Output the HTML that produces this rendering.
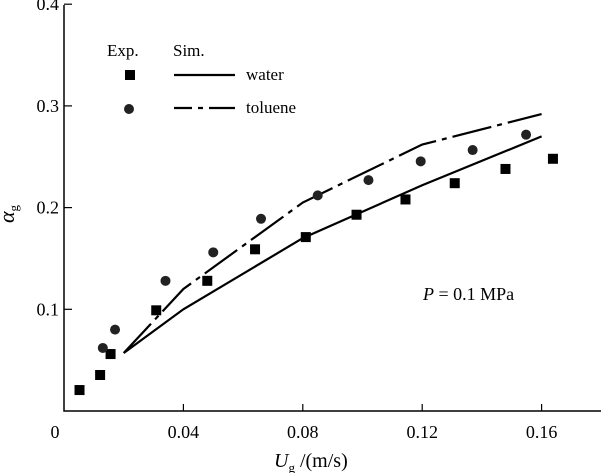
<!DOCTYPE html>
<html><head><meta charset="utf-8"><style>
body{margin:0;background:#fff;}
svg{display:block;font-family:"Liberation Serif",serif;}
</style></head><body>
<svg id="chart" width="602" height="473">
<g id="axes"></g>
<g id="marks"></g>
</svg>
<script>
const xTicks=[0.04,0.08,0.12,0.16];
const xTickLabels=["0.04","0.08","0.12","0.16"];
const yTicks=[0.1,0.2,0.3,0.4];
const yTickLabels=["0.1","0.2","0.3","0.4"];
const waterExpX=[0.0052,0.0121,0.0156,0.0309,0.048,0.064,0.081,0.098,0.1144,0.1309,0.1479,0.1638];
const waterExpY=[0.0206,0.0354,0.056,0.099,0.128,0.159,0.171,0.193,0.208,0.224,0.238,0.248];
const tolExpX=[0.013,0.0171,0.034,0.050,0.066,0.085,0.102,0.1195,0.1369,0.1548];
const tolExpY=[0.062,0.080,0.128,0.156,0.189,0.212,0.227,0.2455,0.2566,0.2717];
const waterSimX=[0.020,0.040,0.080,0.120,0.160];
const waterSimY=[0.057,0.100,0.170,0.222,0.270];
const tolSimX=[0.020,0.040,0.080,0.120,0.160];
const tolSimY=[0.057,0.120,0.205,0.262,0.292];

const NS="http://www.w3.org/2000/svg";
const X0=64,XS=2985,Y0=411,YS=1017;
function sx(v){return X0+v*XS;}
function sy(v){return Y0-v*YS;}
function mk(tag,attrs,parent,text){const e=document.createElementNS(NS,tag);for(const k in attrs)e.setAttribute(k,attrs[k]);if(text!==undefined)e.textContent=text;parent.appendChild(e);return e;}
const axes=document.getElementById('axes'),marks=document.getElementById('marks');

let e=mk('path',{d:`M${X0},5 L${X0},${Y0} L601,${Y0}`,fill:'none',stroke:'#000','stroke-width':1.5},axes);


xTicks.forEach((t,i)=>{
 let l=mk('line',{x1:sx(t),x2:sx(t),y1:Y0,y2:Y0-7,stroke:'#000','stroke-width':1.2},axes);
 
 
 let tx=mk('text',{x:sx(t),y:438,'text-anchor':'middle','font-size':18},axes,xTickLabels[i]);
 
 
});
yTicks.forEach((t,i)=>{
 let l=mk('line',{x1:X0,x2:X0+8,y1:sy(t),y2:sy(t),stroke:'#000','stroke-width':1.2},axes);
 
 
 let tx=mk('text',{x:59,y:sy(t)+6,'text-anchor':'end','font-size':18},axes,yTickLabels[i]);
 
 
});
e=mk('text',{x:55,y:438,'text-anchor':'middle','font-size':18},axes,'0');



function path(xs,ys){return xs.map((x,i)=>(i?'L':'M')+sx(x)+','+sy(ys[i])).join(' ');}
e=mk('path',{d:path(waterSimX,waterSimY),fill:'none',stroke:'#000','stroke-width':2.2},marks);


e=mk('path',{d:path(tolSimX,tolSimY),fill:'none',stroke:'#000','stroke-width':2.2,'stroke-dasharray':'40 6 5 6'},marks);


waterExpX.forEach((x,i)=>{
 let r=mk('rect',{x:sx(x)-5,y:sy(waterExpY[i])-5,width:10,height:10,fill:'#000'},marks);
 
 
});
tolExpX.forEach((x,i)=>{
 let c=mk('circle',{cx:sx(x),cy:sy(tolExpY[i]),r:5,fill:'#222'},marks);
 
 
});
</script>
<svg width="602" height="473" style="position:absolute;left:0;top:0;font-family:'Liberation Serif',serif">
<g>
<text x="107" y="56" font-size="17">Exp.</text>
<text x="173" y="56" font-size="17">Sim.</text>
<rect x="125" y="70" width="10" height="10" fill="#000"/>
<line x1="174" x2="235" y1="75" y2="75" stroke="#000" stroke-width="2.2"/>
<text x="246" y="80" font-size="17">water</text>
<circle cx="129" cy="109" r="5" fill="#222"/>
<line x1="174" x2="235" y1="108" y2="108" stroke="#000" stroke-width="2.2" stroke-dasharray="18 6 5 6 40"/>
<text x="246" y="113" font-size="17">toluene</text>
</g>
<text x="423" y="300" font-size="18"><tspan font-style="italic">P</tspan> = 0.1 MPa</text>
<text x="0" y="0" font-size="22" transform="translate(14,223) rotate(-90)"><tspan font-style="italic">α</tspan><tspan font-size="13" dy="4">g</tspan></text>
<text x="274" y="467" font-size="20"><tspan font-style="italic">U</tspan><tspan font-size="13" dy="5">g</tspan><tspan dy="-5"> /(m/s)</tspan></text>
</svg>
</body></html>
